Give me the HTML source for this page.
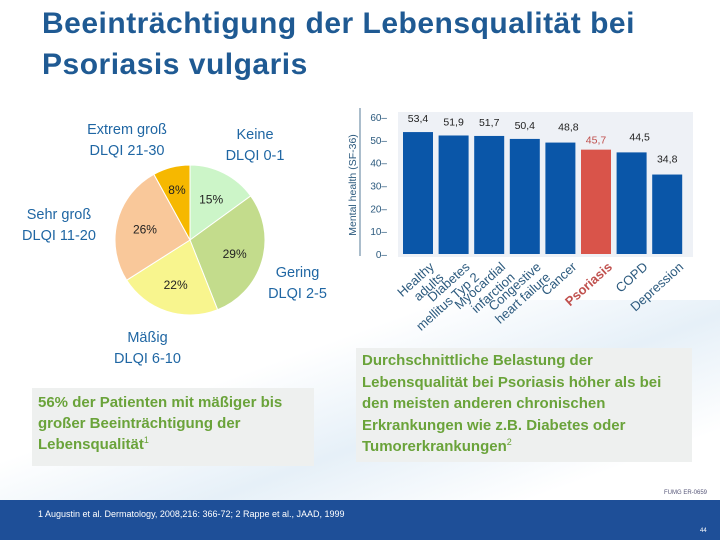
<!DOCTYPE html>
<html><head><meta charset="utf-8"><style>
body{margin:0;width:720px;height:540px;overflow:hidden;background:#fff;font-family:"Liberation Sans",sans-serif;position:relative}
.abs{position:absolute}
.title{left:42px;top:3px;font-size:30px;font-weight:bold;color:#1f5a93;line-height:41px;letter-spacing:0.5px}
.lbl{color:#1f66a3;font-size:14.5px;text-align:center;line-height:21px}
.box{background:#eef0ef;color:#6aa33a;font-weight:bold;font-size:15px;line-height:21px}
sup{font-size:9px;font-weight:normal;line-height:0;vertical-align:6px}
</style></head><body>
<div class="abs" style="left:0;top:300px;width:720px;height:200px;background:linear-gradient(160deg,#fff 35%,#e6f0f8 60%,#fff 85%)"></div>
<div class="abs title">Beeinträchtigung der Lebensqualität bei<br>Psoriasis vulgaris</div>
<svg class="abs" style="left:0;top:0" width="720" height="540">
<g id="pie"></g>
<g id="bars"></g>
</svg>
<div class="abs lbl" style="left:72px;top:120px;width:110px">Extrem groß<br>DLQI 21-30</div>
<div class="abs lbl" style="left:210px;top:125px;width:90px">Keine<br>DLQI 0-1</div>
<div class="abs lbl" style="left:14px;top:205px;width:90px">Sehr groß<br>DLQI 11-20</div>
<div class="abs lbl" style="left:255px;top:263px;width:85px">Gering<br>DLQI 2-5</div>
<div class="abs lbl" style="left:100px;top:328px;width:95px">Mäßig<br>DLQI 6-10</div>
<div class="abs box" style="left:32px;top:388px;width:276px;height:70px;padding:4px 0 4px 6px">56% der Patienten mit mäßiger bis großer Beeinträchtigung der Lebensqualität<sup>1</sup></div>
<div class="abs box" style="left:356px;top:348px;width:330px;height:112px;padding:2px 0 0 6px;line-height:21.5px">Durchschnittliche Belastung der Lebensqualität bei Psoriasis höher als bei den meisten anderen chronischen Erkrankungen wie z.B. Diabetes oder Tumorerkrankungen<sup>2</sup></div>
<div class="abs" style="left:664px;top:490px;font-size:6px;color:#557">FUMG ER-0659</div>
<div class="abs" style="left:0;top:500px;width:720px;height:40px;background:#1e4f98"></div>
<div class="abs" style="left:38px;top:509px;font-size:9px;color:#fff">1 Augustin et al. Dermatology, 2008,216: 366-72; 2 Rappe et al., JAAD, 1999</div>
<div class="abs" style="left:700px;top:528px;font-size:6px;color:#fff">44</div>
<script>
const pieLabels=["15%","29%","22%","26%","8%"];
const pieValues=[15,29,22,26,8];
const pieColors=["#ccf5c8","#c3dc8c","#f8f58e","#f9c89a","#f6b800"];
const barCats=["Healthy adults","Diabetes mellitus Typ 2","Myocardial infarction","Congestive heart failure","Cancer","Psoriasis","COPD","Depression"];
const barVals=[53.4,51.9,51.7,50.4,48.8,45.7,44.5,34.8];
const barText=["53,4","51,9","51,7","50,4","48,8","45,7","44,5","34,8"];
const yTicks=[0,10,20,30,40,50,60];
const NS="http://www.w3.org/2000/svg";
function mk(p,t,a){const e=document.createElementNS(NS,t);for(const k in a)e.setAttribute(k,a[k]);p.appendChild(e);return e;}
const pie=document.getElementById('pie');const cx=190,cy=240,r=75;
const tot=pieValues.reduce((a,b)=>a+b,0);let ang=-Math.PI/2;
pieValues.forEach((v,i)=>{const a2=ang+v/tot*2*Math.PI;
const x1=cx+r*Math.cos(ang),y1=cy+r*Math.sin(ang),x2=cx+r*Math.cos(a2),y2=cy+r*Math.sin(a2);
const p=mk(pie,'path',{d:`M${cx},${cy}L${x1},${y1}A${r},${r} 0 ${a2-ang>Math.PI?1:0} 1 ${x2},${y2}Z`,fill:pieColors[i],stroke:'#fff','stroke-width':1});


const m=(ang+a2)/2,rr=i==4?r*0.7:r*0.62;
const t=mk(pie,'text',{x:cx+rr*Math.cos(m),y:cy+rr*Math.sin(m)+5,'text-anchor':'middle','font-size':12,fill:'#222'});t.textContent=pieLabels[i];


ang=a2;});
const g=document.getElementById('bars');
const y0=254,yPer=(254-117)/60,x0=403,step=35.6,bw=30;
const Y=v=>y0-v*yPer;const X=i=>x0+i*step;
mk(g,'rect',{x:398,y:112,width:295,height:145,fill:'#eef1f6'});
mk(g,'line',{x1:360,y1:108,x2:360,y2:256,stroke:'#2c5a7e','stroke-width':0.8});
yTicks.forEach(t=>{const tx=mk(g,'text',{x:387,y:Y(t)+4,'text-anchor':'end','font-size':10,fill:'#2c5a7e'});tx.textContent=t+'–';

});
const yt=mk(g,'text',{transform:'translate(356,185) rotate(-90)','text-anchor':'middle','font-size':10.5,fill:'#2c5a7e'});yt.textContent='Mental health (SF-36)';


barVals.forEach((v,i)=>{
const b=mk(g,'rect',{x:X(i),y:Y(v),width:bw,height:y0-Y(v),fill:i==5?'#d9544a':'#0a56a8'});


const t=mk(g,'text',{x:X(i)+bw/2+(i==4||i==6?8:0),y:Y(v)-(i==4||i==6||i==7?12:6)-(i<4?4:0),'text-anchor':'middle','font-size':10.5,fill:i==5?'#c0504d':'#222'});t.textContent=barText[i];


const words=barCats[i].split(' ');const lines=words.length>2?[words[0],words.slice(1).join(' ')]:words.length==2&&i!=0?words:[barCats[i]];
const lbl=i==0?['Healthy','adults']:lines;
const tg=mk(g,'text',{transform:`translate(${X(i)+bw+2},${y0+14}) rotate(-42)`,'text-anchor':'end','font-size':13,fill:i==5?'#c0504d':'#2c5a7e','font-weight':i==5?'bold':'normal'});
lbl.forEach((l,k)=>{const s=mk(tg,'tspan',{x:0,dy:k?14:0});s.textContent=l;});

});
</script>
</body></html>
